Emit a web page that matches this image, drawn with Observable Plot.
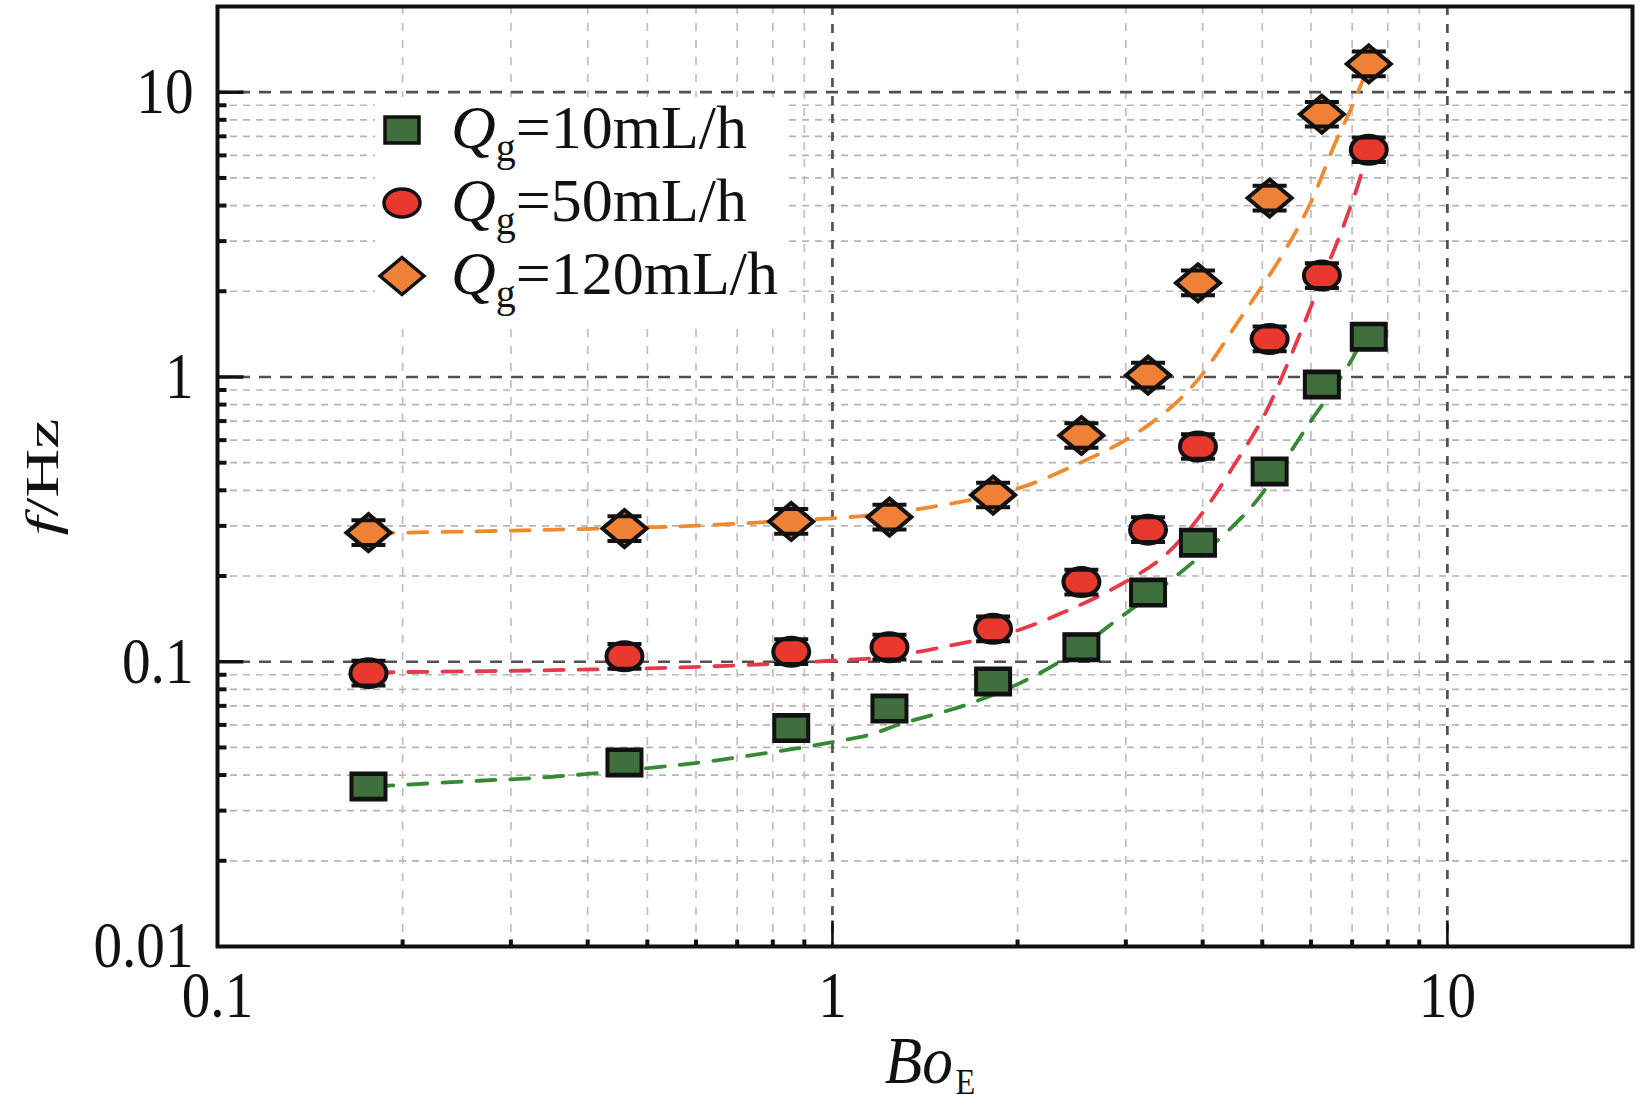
<!DOCTYPE html>
<html>
<head>
<meta charset="utf-8">
<script src="https://cdn.jsdelivr.net/npm/d3@7"></script>
<script src="https://cdn.jsdelivr.net/npm/@observablehq/plot@0.6"></script>
<style>
html,body{margin:0;padding:0;background:#fff;}
#wrap{width:1642px;height:1102px;}
</style>
</head>
<body>
<div id="wrap"></div>
<script>
// ---------- data ----------
const boE  = [0.176, 0.459, 0.857, 1.238, 1.825, 2.54, 3.26, 3.93, 5.14, 6.25, 7.45];
const f10  = [0.0365, 0.0443, 0.0585, 0.0685, 0.0853, 0.1125, 0.175, 0.262, 0.466, 0.941, 1.385];
const f50  = [0.0912, 0.1045, 0.1085, 0.1125, 0.1305, 0.1905, 0.291, 0.570, 1.36, 2.27, 6.28];
const f120 = [0.284, 0.2935, 0.311, 0.322, 0.385, 0.623, 1.015, 2.14, 4.25, 8.37, 12.57];
const seriesLabels = ["10", "50", "120"];
const relErr = 0.105;

// fitted curves (dashed)
const fitBo10 = [0.18, 0.266, 0.325, 0.396, 0.535, 0.631, 0.745, 0.88, 1.0, 1.148, 1.29, 1.65, 2.04, 2.39, 2.92, 3.47, 4.05, 4.82, 5.41, 5.97, 6.51, 6.99, 7.2];
const fitF10  = [0.0365, 0.0382, 0.039, 0.0403, 0.0429, 0.0447, 0.0471, 0.0497, 0.0522, 0.0554, 0.0604, 0.0706, 0.0851, 0.1028, 0.1417, 0.186, 0.245, 0.353, 0.50, 0.69, 0.903, 1.15, 1.3];
const fitBo50 = [0.18, 0.275, 0.41, 0.59, 0.851, 1.005, 1.227, 1.65, 1.96, 2.39, 2.92, 3.47, 4.0, 4.49, 5.03, 5.56, 5.97, 6.25, 6.77, 7.22, 7.27];
const fitF50  = [0.0918, 0.0927, 0.094, 0.0958, 0.0989, 0.101, 0.104, 0.117, 0.127, 0.150, 0.185, 0.236, 0.334, 0.487, 0.729, 1.18, 1.72, 2.2, 3.37, 5.04, 5.4];
const fitBo120 = [0.18, 0.275, 0.403, 0.59, 0.851, 1.138, 1.43, 1.99, 2.53, 3.01, 3.52, 3.94, 4.6, 5.37, 5.95, 6.6, 6.95, 7.32];
const fitF120  = [0.283, 0.2875, 0.293, 0.300, 0.313, 0.326, 0.348, 0.404, 0.50, 0.604, 0.769, 0.985, 1.6, 2.65, 3.96, 6.78, 8.63, 11.3];

// ticks / grid values
const xTicks = [0.1, 1, 10];
const yTicks = [0.01, 0.1, 1, 10];
const xMajor = [1, 10];
const yMajor = [0.1, 1, 10];
const xMinor = [0.2,0.3,0.4,0.5,0.6,0.7,0.8,0.9,2,3,4,5,6,7,8,9];
const yMinor = [0.02,0.03,0.04,0.05,0.06,0.07,0.08,0.09,0.2,0.3,0.4,0.5,0.6,0.7,0.8,0.9,2,3,4,5,6,7,8,9];

// ---------- style ----------
const fam = '"Liberation Serif","Times New Roman",Tinos,"Nimbus Roman",Times,serif';
const cGreen = "#3f6f3d", cRed = "#e8392f", cOrange = "#ee8136";
const lGreen = "#368a35", lRed = "#e6394a", lOrange = "#f08a2e";
const ink = "#111";
const condense = 0.88; // the reference type is narrow and tall

const pts = (xs, ys) => xs.map((x, i) => ({x, y: ys[i]}));
const segSym = (x1, y1, x2, y2) => ({draw(c) { c.moveTo(x1, y1); c.lineTo(x2, y2); }});
const squareSym = {draw(c) { c.rect(-17, -13, 34, 26); }};
const ellipseSym = {draw(c) {
  const rx = 18, ry = 14, k = 0.5523;
  c.moveTo(rx, 0);
  c.bezierCurveTo(rx, ry * k, rx * k, ry, 0, ry);
  c.bezierCurveTo(-rx * k, ry, -rx, ry * k, -rx, 0);
  c.bezierCurveTo(-rx, -ry * k, -rx * k, -ry, 0, -ry);
  c.bezierCurveTo(rx * k, -ry, rx, -ry * k, rx, 0);
  c.closePath();
}};
const diamondSym = {draw(c) { c.moveTo(0, -18.5); c.lineTo(22, 0); c.lineTo(0, 18.5); c.lineTo(-22, 0); c.closePath(); }};
const capSym = segSym(-17, 0, 17, 0);

const sq = pts(boE, f10), ci = pts(boE, f50), di = pts(boE, f120);
const caps = [...sq, ...ci, ...di].flatMap(d => [{x: d.x, y: d.y * (1 + relErr)}, {x: d.x, y: d.y / (1 + relErr)}]);

const fitLine = (data, stroke) => Plot.line(data, {x: "x", y: "y", stroke, strokeWidth: 3.8, strokeDasharray: "19,15", curve: "catmull-rom"});
const markerDot = (data, symbol, fill) => Plot.dot(data, {x: "x", y: "y", symbol, fill, stroke: ink, strokeWidth: 4});

const chart = Plot.plot({
  width: 1642,
  height: 1102,
  marginLeft: 217,
  marginRight: 10,
  marginTop: 6,
  marginBottom: 156,
  x: {type: "log", domain: [0.1, 20]},
  y: {type: "log", domain: [0.01, 20]},
  style: {background: "#fff", fontFamily: fam, color: ink},
  marks: [
    Plot.ruleY(yMinor, {stroke: "#b5b5b5", strokeWidth: 1.7, strokeDasharray: "7,6"}),
    Plot.ruleX(xMinor, {stroke: "#c6bcbc", strokeWidth: 1.7, strokeDasharray: "8,9"}),
    Plot.ruleY(yMajor, {stroke: "#555050", strokeWidth: 2.7, strokeDasharray: "12,9"}),
    Plot.ruleX(xMajor, {stroke: "#555050", strokeWidth: 2.7, strokeDasharray: "9,9"}),
    fitLine(pts(fitBo10, fitF10), lGreen),
    fitLine(pts(fitBo50, fitF50), lRed),
    fitLine(pts(fitBo120, fitF120), lOrange),
    markerDot(sq, squareSym, cGreen),
    markerDot(ci, ellipseSym, cRed),
    markerDot(di, diamondSym, cOrange),
    Plot.dot(caps, {x: "x", y: "y", symbol: capSym, fill: "none", stroke: ink, strokeWidth: 4}),
    Plot.dot(yMinor, {y: d => d, frameAnchor: "left", symbol: segSym(0, 0, 9, 0), fill: "none", stroke: ink, strokeWidth: 4}),
    Plot.dot(yMajor, {y: d => d, frameAnchor: "left", symbol: segSym(0, 0, 26, 0), fill: "none", stroke: ink, strokeWidth: 3.5}),
    Plot.dot(xMinor, {x: d => d, frameAnchor: "bottom", symbol: segSym(0, 0, 0, -7), fill: "none", stroke: ink, strokeWidth: 4}),
    Plot.dot(xMajor, {x: d => d, frameAnchor: "bottom", symbol: segSym(0, 0, 0, -26), fill: "none", stroke: ink, strokeWidth: 2.6}),
    Plot.frame({stroke: ink, strokeWidth: 4}),
    Plot.axisX({ticks: xTicks, tickSize: 0, tickPadding: 24, tickFormat: d => String(d), fontSize: 65, fontFamily: fam, label: null}),
    Plot.axisY({ticks: yTicks, tickSize: 0, tickPadding: 24, tickFormat: d => String(d), fontSize: 65, fontFamily: fam, label: null})
  ]
});

document.getElementById("wrap").appendChild(chart);
const svg = d3.select(chart);

// narrow the tick labels horizontally around their anchors
svg.selectAll('g[aria-label$="tick label"] text').each(function() {
  const el = d3.select(this);
  const tr = el.attr("transform") || "";
  el.attr("transform", `${tr} scale(${condense},1)`);
});

// ---------- legend ----------
const lg = svg.append("g");
lg.append("rect").attr("x", 375).attr("y", 97).attr("width", 411).attr("height", 223).attr("fill", "#fff");
const legendSyms = [squareSym, ellipseSym, diamondSym];
const legendFills = [cGreen, cRed, cOrange];
const rowY = [130, 203, 276];
seriesLabels.forEach((lab, i) => {
  const p = d3.path(); legendSyms[i].draw(p, 0);
  lg.append("path").attr("d", p.toString()).attr("transform", `translate(402,${rowY[i]})`)
    .attr("fill", legendFills[i]).attr("stroke", ink).attr("stroke-width", 3.5);
  const t = lg.append("text").attr("x", 451).attr("y", rowY[i] + 18).attr("text-anchor", "start")
    .attr("font-family", fam).attr("font-size", 62).attr("fill", ink);
  t.append("tspan").attr("font-style", "italic").text("Q");
  t.append("tspan").attr("font-size", 40).attr("dy", 13).text("g");
  t.append("tspan").attr("dy", -13).text("=" + lab + "mL/h");
});

// ---------- axis titles ----------
const xt = svg.append("text").attr("transform", `translate(930,1083) scale(0.9,1)`).attr("text-anchor", "middle")
  .attr("font-family", fam).attr("font-size", 68).attr("fill", ink);
xt.append("tspan").attr("font-style", "italic").text("Bo");
xt.append("tspan").attr("font-size", 36).attr("dx", 3).attr("dy", 11).text("E");

const yt = svg.append("text").attr("transform", "translate(58,477) rotate(-90)").attr("text-anchor", "middle")
  .attr("font-family", fam).attr("font-size", 47).attr("fill", ink)
  .attr("textLength", 117).attr("lengthAdjust", "spacingAndGlyphs");
yt.append("tspan").attr("font-style", "italic").text("f");
yt.append("tspan").text("/Hz");
</script>
</body>
</html>
